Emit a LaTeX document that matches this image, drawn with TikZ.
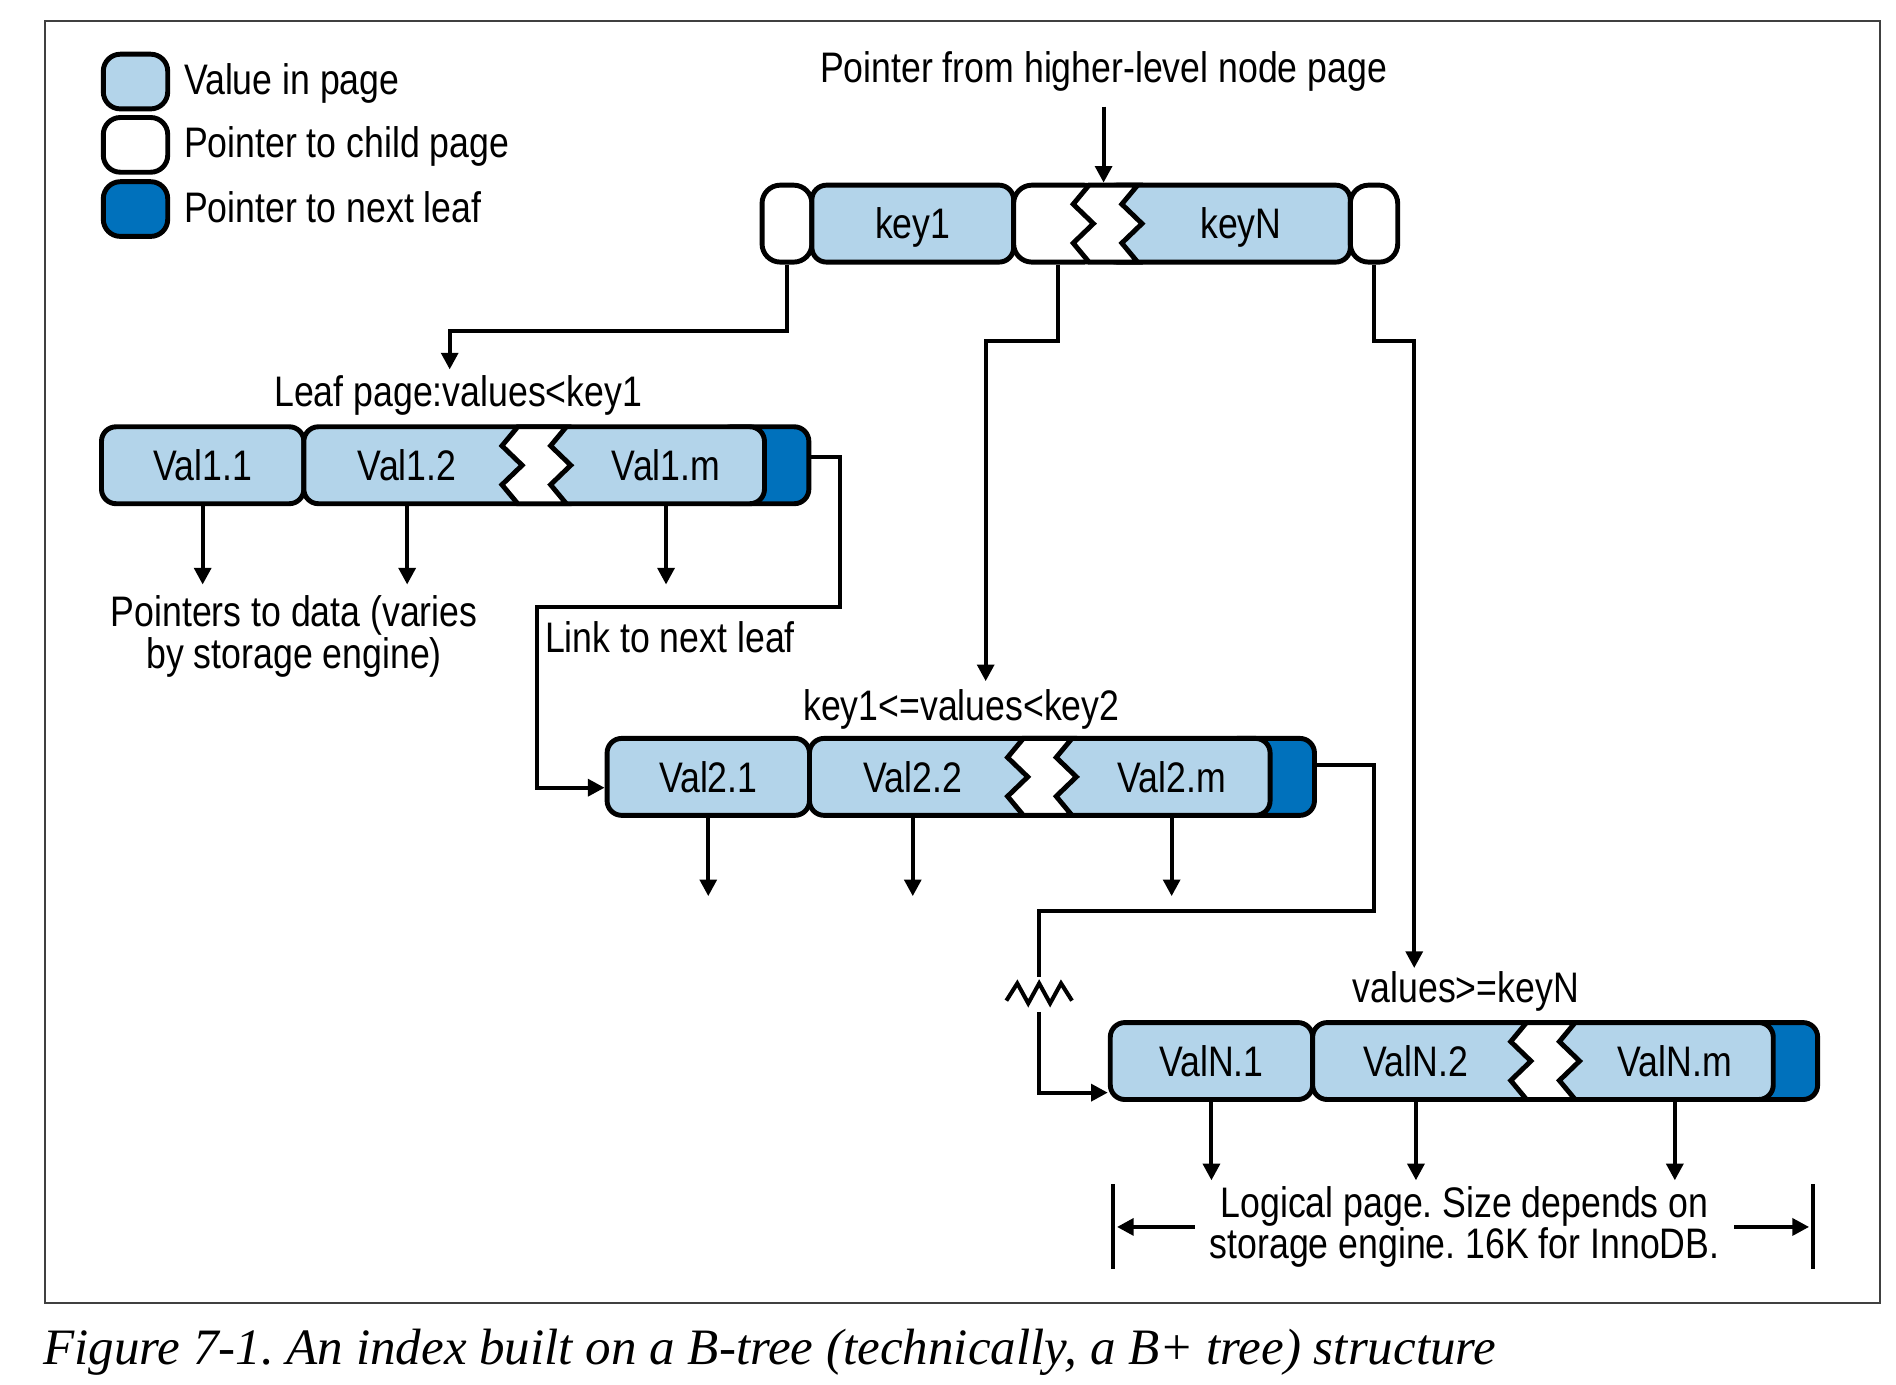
\documentclass[tikz,border=0pt]{standalone}
\usepackage{fontspec}
\setmainfont[FakeStretch=0.835]{Liberation Sans}
\newfontfamily\capfont{Liberation Serif}
\frenchspacing
\usetikzlibrary{positioning, arrows.meta}
\definecolor{valblue}{RGB}{179,212,234}
\definecolor{leafblue}{RGB}{0,113,188}
\tikzset{
>={Triangle[length=3.9pt, width=3.9pt]}, % solid arrow heads
every node/.style={font=\fontsize{10}{9.7}\selectfont}, % one text size everywhere
slot/.style={rectangle, draw, line width=1.15pt, rounded corners=0.12cm, minimum height=0.633cm, inner sep=0pt, text height=0.25cm, text depth=0cm}, % one cell of a page
val/.style={slot, fill=valblue}, % value in page
ptr/.style={slot, fill=white, rounded corners=0.15cm}, % pointer to child page
nextleaf/.style={slot, fill=leafblue}, % pointer to next leaf
vtext/.style={text height=0.25cm, text depth=0cm}, % text inside a cell
link/.style={line width=0.95pt}, % connectors
gapcut/.pic={ % the cut in a page
\draw[fill=white, line width=1.15pt] (0.13,0.3165) -- (0,0.16) -- (0.166,0) -- (0,-0.16) -- (0.13,-0.3165) -- (0.53,-0.3165) -- (0.40,-0.16) -- (0.566,0) -- (0.40,0.16) -- (0.53,0.3165) -- cycle;
},
breakmark/.pic={ % broken link
\draw[line width=0.95pt] (-0.27,-0.06) -- (-0.18,0.082) -- (-0.09,-0.082) -- (0,0.082) -- (0.09,-0.082) -- (0.18,0.082) -- (0.27,-0.06);
},
}

\begin{document}
\begin{tikzpicture}

\useasboundingbox (0,0) rectangle (15.60,11.395);
\draw[line width=0.4pt, black!75] (0.37,0.676) rectangle (15.47,11.22);

% legend
\node[val, minimum width=0.53cm, minimum height=0.45cm, rounded corners=0.14cm] at (1.115, 10.724) (lgval) {};
\node[ptr, minimum width=0.53cm, minimum height=0.45cm, rounded corners=0.14cm] at (1.115, 10.203) (lgptr) {};
\node[nextleaf, minimum width=0.53cm, minimum height=0.45cm, rounded corners=0.14cm] at (1.115, 9.675) (lgnext) {};
\node[anchor=base west] at (1.39, 10.618) (lgvaltxt) {Value in page};
\node[anchor=base west] at (1.39, 10.097) (lgptrtxt) {Pointer to child page};
\node[anchor=base west] at (1.39, 9.568) (lgnexttxt) {Pointer to next leaf};

% node page
\node[anchor=base] at (9.08, 10.714) (toplbl) {Pointer from higher-level node page};
\node[ptr, minimum width=0.41cm] at (6.475, 9.555) (lpill) {};
\node[val, minimum width=1.66cm] at (7.51, 9.555) (key1) {key1};
\node[ptr, minimum width=0.73cm] at (8.705, 9.555) (kptr) {};
\node[val, minimum width=2.04cm] at (10.09, 9.555) (keyN) {};
\node[ptr, minimum width=0.39cm] at (11.305, 9.555) (rpill) {};
\pic at (8.83, 9.555) {gapcut};
\node[vtext] at (10.21, 9.555) (keyNtxt) {keyN};

% leaf page 1
\node[nextleaf, minimum width=0.755cm] at (6.2775, 7.567) (cap1) {};
\node[val, minimum width=1.665cm] at (1.6675, 7.567) (v11) {Val1.1};
\node[val, minimum width=3.79cm] at (4.395, 7.567) (p1) {};
\pic at (4.13, 7.567) {gapcut};
\node[vtext] at (3.35, 7.567) (v12) {Val1.2};
\node[vtext] at (5.48, 7.567) (v1m) {Val1.m};
\node[anchor=base] at (3.77, 8.054) (lbl1) {Leaf page:values<key1};

% leaf page 2
\node[nextleaf, minimum width=0.755cm] at (10.4375, 5.003) (cap2) {};
\node[val, minimum width=1.665cm] at (5.8275, 5.003) (v21) {Val2.1};
\node[val, minimum width=3.79cm] at (8.555, 5.003) (p2) {};
\pic at (8.29, 5.003) {gapcut};
\node[vtext] at (7.51, 5.003) (v22) {Val2.2};
\node[vtext] at (9.64, 5.003) (v2m) {Val2.m};
\node[anchor=base] at (7.91, 5.47) (lbl2) {key1<=values<key2};

% leaf page N
\node[nextleaf, minimum width=0.755cm] at (14.5775, 2.665) (capN) {};
\node[val, minimum width=1.665cm] at (9.9675, 2.665) (vN1) {ValN.1};
\node[val, minimum width=3.79cm] at (12.695, 2.665) (pN) {};
\pic at (12.43, 2.665) {gapcut};
\node[vtext] at (11.65, 2.665) (vN2) {ValN.2};
\node[vtext] at (13.78, 2.665) (vNm) {ValN.m};
\node[anchor=base] at (12.06, 3.144) (lblN) {values>=keyN};

% texts
\node[align=center] at (2.42, 6.16) (datatxt) {Pointers to data (varies\\by storage engine)};
\node[anchor=base west] at (4.36, 6.03) (linktxt) {Link to next leaf};
\node[align=center] at (12.05, 1.30) (lpage) {Logical page. Size depends on\\storage engine. 16K for InnoDB.};
\node[anchor=base west, font=\capfont\itshape\fontsize{11.95}{14}\selectfont] at (0.232, 0.17) (caption) {Figure 7-1. An index built on a B-tree (technically, a B+ tree) structure};

% ends of connectors
\coordinate (in1) at (3.70, 8.355);
\coordinate (in2) at (8.11, 5.79);
\coordinate (in3) at (11.636, 3.43);
\coordinate (link1a) at (6.91, 6.40);
\coordinate (link1b) at (4.42, 4.914);
\coordinate (link2a) at (11.305, 3.90);
\coordinate (brkin) at (8.55, 3.36);
\coordinate (brkout) at (8.55, 3.07);
\coordinate (dimL) at (9.19, 1.30);
\coordinate (dimR) at (14.885, 1.30);
\coordinate (barL1) at (9.154, 1.65);
\coordinate (barL2) at (9.154, 0.95);
\coordinate (barR1) at (14.92, 1.65);
\coordinate (barR2) at (14.92, 0.95);

\draw[link, ->] (toplbl) -- (toplbl |- keyN.north);
\draw[link, ->] (lpill.south) -- ++(0,-0.55) -| (in1);
\draw[link, ->] (kptr.south) -- ++(0,-0.63) -| (in2);
\draw[link, ->] (rpill.south) -- ++(0,-0.63) -| (in3);

\draw[link, ->] (v11.south) -- ++(0,-0.645);
\draw[link, ->] (v12 |- p1.south) -- ++(0,-0.645);
\draw[link, ->] (v1m |- p1.south) -- ++(0,-0.645);
\draw[link, ->] (v21.south) -- ++(0,-0.645);
\draw[link, ->] (v22 |- p2.south) -- ++(0,-0.645);
\draw[link, ->] (v2m |- p2.south) -- ++(0,-0.645);
\draw[link, ->] (vN1.south) -- ++(0,-0.645);
\draw[link, ->] (vN2 |- pN.south) -- ++(0,-0.645);
\draw[link, ->] (vNm |- pN.south) -- ++(0,-0.645);

\draw[link, ->] ([yshift=0.065cm]cap1.east) -| (link1a) -| (link1b) -- (v21.west |- link1b);
\draw[link] ([yshift=0.097cm]cap2.east) -| (link2a) -| (brkin);
\pic at (8.55, 3.222) {breakmark};
\draw[link, ->] (brkout) |- ([yshift=-0.26cm]vN1.west);

\draw[link] (barL1) -- (barL2);
\draw[link] (barR1) -- (barR2);
\draw[link, ->] (lpage.west) -- (dimL);
\draw[link, ->] (lpage.east) -- (dimR);

\end{tikzpicture}
\end{document}
